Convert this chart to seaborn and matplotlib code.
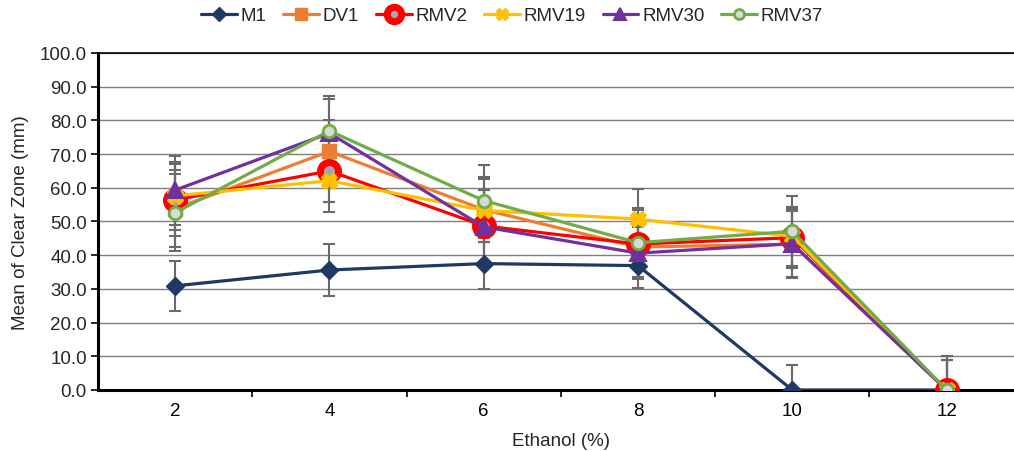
import matplotlib
matplotlib.use('agg')
import matplotlib.pyplot as plt
import seaborn as sns
import pandas as pd
import numpy as np

# data
ethanol = [2, 4, 6, 8, 10, 12]
series_names = ['M1', 'DV1', 'RMV2', 'RMV19', 'RMV30', 'RMV37']
m1 = [30.9, 35.6, 37.5, 36.9, 0.0, 0.0]
dv1 = [53.8, 70.8, 53.5, 42.4, 43.3, 0.0]
rmv2 = [56.4, 65.0, 48.7, 43.3, 45.2, 0.0]
rmv19 = [57.6, 62.1, 53.3, 50.7, 45.6, 0.0]
rmv30 = [59.3, 76.2, 48.4, 40.6, 43.4, 0.0]
rmv37 = [52.6, 76.9, 56.2, 43.7, 47.1, 0.0]
m1_err = [7.5, 7.7, 7.5, 6.6, 7.4, 0.0]
dv1_err = [11.4, 9.4, 9.6, 9.0, 9.9, 9.0]
rmv2_err = [10.7, 9.3, 10.6, 10.2, 9.0, 10.2]
rmv19_err = [10.1, 9.4, 9.3, 8.9, 8.8, 9.0]
rmv30_err = [10.2, 10.2, 10.9, 7.7, 10.3, 10.2]
rmv37_err = [11.5, 10.4, 10.7, 10.2, 10.6, 9.0]

means = [m1, dv1, rmv2, rmv19, rmv30, rmv37]
errs = [m1_err, dv1_err, rmv2_err, rmv19_err, rmv30_err, rmv37_err]

df = pd.concat([pd.DataFrame({'Ethanol': ethanol, 'Mean': m, 'Err': e, 'Strain': n})
                for n, m, e in zip(series_names, means, errs)], ignore_index=True)

# per-series marker styles (Excel look)
styles = {
    'M1':    dict(color='#1F3864', marker='D', markersize=9, mfc='#1F3864', mec='#1F3864', mew=1),
    'DV1':   dict(color='#ED7D31', marker='s', markersize=10, mfc='#ED7D31', mec='#ED7D31', mew=1),
    'RMV2':  dict(color='#FF0000', marker='o', markersize=13, mfc='#A6A6A6', mec='#FF0000', mew=5),
    'RMV19': dict(color='#FFC000', marker='X', markersize=11, mfc='#FFC000', mec='#FFC000', mew=1),
    'RMV30': dict(color='#7030A0', marker='^', markersize=11, mfc='#7030A0', mec='#7030A0', mew=1.5),
    'RMV37': dict(color='#70AD47', marker='o', markersize=9, mfc='#D9D9D9', mec='#70AD47', mew=2),
}

FS = 13.5

sns.set_theme(style='white')
plt.rcParams['font.family'] = ['Liberation Sans', 'DejaVu Sans']

fig = plt.figure(figsize=(10.14, 4.52), dpi=100)
ax = fig.add_axes([0.0966, 0.135, 0.913, 0.7456])

# error bars first so markers sit on top
for name in series_names:
    sub = df[df.Strain == name]
    ax.errorbar(sub.Ethanol, sub.Mean, yerr=sub.Err, fmt='none', ecolor='#6a6a6a',
                elinewidth=1.5, capsize=4, capthick=1.5, zorder=2)

for name in series_names:
    sub = df[df.Strain == name]
    st = styles[name]
    sns.lineplot(data=sub, x='Ethanol', y='Mean', ax=ax, label=name, color=st['color'],
                 linewidth=2.3, marker=st['marker'], markersize=st['markersize'],
                 markerfacecolor=st['mfc'], markeredgecolor=st['mec'],
                 markeredgewidth=st['mew'], zorder=3, legend=False)

ax.set_xlim(1, 13)
ax.set_ylim(0, 100)
ax.set_yticks(np.arange(0, 101, 10))
ax.set_yticklabels([f'{v:.1f}' for v in np.arange(0, 101, 10)])
ax.set_xticks(ethanol)
ax.set_xticks([3, 5, 7, 9, 11], minor=True)
ax.tick_params(axis='x', which='major', length=0, labelsize=FS, pad=9, colors='#000000')
ax.tick_params(axis='x', which='minor', length=5, width=1.2, direction='out', color='#000000', bottom=True)
ax.tick_params(axis='y', length=5, width=1.2, direction='out', labelsize=FS, pad=3, color='#000000', left=True)
ax.yaxis.grid(True, color='#7f7f7f', linewidth=1)
ax.xaxis.grid(False)
ax.set_axisbelow(True)

for side in ['left', 'bottom', 'top']:
    ax.spines[side].set_color('#000000')
    ax.spines[side].set_linewidth(2.2)
ax.spines['top'].set_linewidth(1.2)
ax.spines['right'].set_visible(False)

ax.set_xlabel('Ethanol (%)', fontsize=FS, labelpad=9)
ax.set_ylabel('Mean of Clear Zone (mm)', fontsize=FS, labelpad=8)

handles, labels = ax.get_legend_handles_labels()
fig.legend(handles, labels, loc='center', bbox_to_anchor=(0.505, 0.963), ncol=6,
           frameon=False, fontsize=FS, handlelength=1.9, columnspacing=0.9, handletextpad=0.2,
           markerscale=0.8)

fig.savefig('out.png', dpi=100)
